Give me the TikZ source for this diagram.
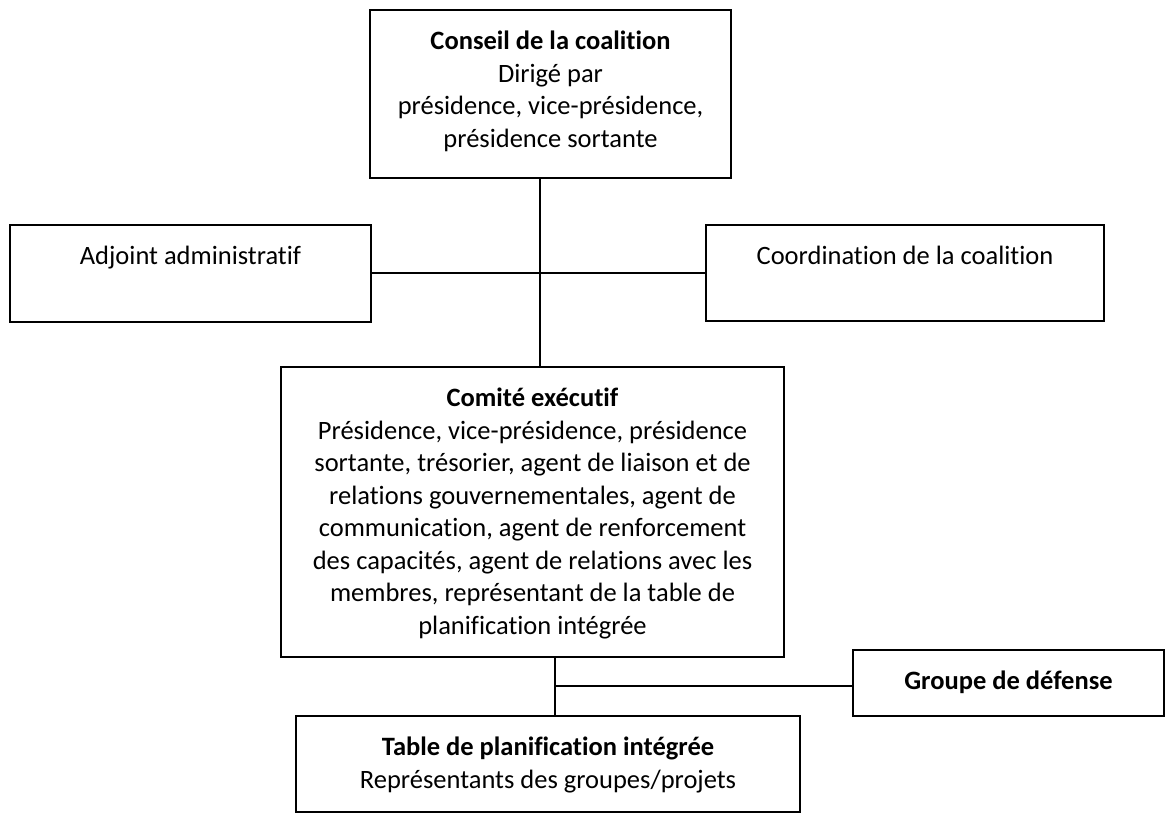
\documentclass[tikz,border=0pt]{standalone}
\usepackage{fontspec}
\setmainfont{Carlito}[Ligatures={NoCommon,NoRare,NoContextual}, Contextuals=NoAlternate]
\usetikzlibrary{positioning}

\begin{document}
\begin{tikzpicture}[x=1pt, y=-1pt,
    box/.style={draw, rectangle, line width=1.6pt, inner sep=0pt, outer sep=0pt},
    boxtext/.style={inner sep=0pt, align=center, font=\fontsize{26.5}{32.5}\selectfont},
    link/.style={line width=1.3pt}]
  \useasboundingbox (0,0) rectangle (1167,814);

  \node[box, minimum width=361pt, minimum height=168pt] (conseil) at (550.5,94) {};
  \node[boxtext, below=17pt of conseil.north] (conseiltxt) {\strut\textbf{Conseil de la coalition}\\Dirigé par\\présidence, vice-présidence,\\présidence sortante};

  \node[box, minimum width=361pt, minimum height=97pt] (adjoint) at (190.5,273.5) {};
  \node[boxtext, below=17pt of adjoint.north] (adjointtxt) {\strut Adjoint administratif};

  \node[box, minimum width=398pt, minimum height=96pt] (coord) at (905,273) {};
  \node[boxtext, below=17pt of coord.north] (coordtxt) {\strut Coordination de la coalition};

  \node[box, minimum width=503pt, minimum height=290pt] (comite) at (532.5,512) {};
  \node[boxtext, below=17pt of comite.north] (comitetxt) {\strut\textbf{Comité exécutif}\\Présidence, vice-présidence, présidence\\sortante, trésorier, agent de liaison et de\\relations gouvernementales, agent de\\communication, agent de renforcement\\des capacités, agent de relations avec les\\membres, représentant de la table de\\planification intégrée};

  \node[box, minimum width=311pt, minimum height=66pt] (groupe) at (1008.5,683) {};
  \node[boxtext, below=17pt of groupe.north] (groupetxt) {\strut\textbf{Groupe de défense}};

  \node[box, minimum width=504pt, minimum height=96pt] (table) at (548,764) {};
  \node[boxtext, below=17pt of table.north] (tabletxt) {\strut\textbf{Table de planification intégrée}\\Représentants des groupes/projets};

  \coordinate (upper) at (540,273);
  \coordinate (lower) at (555,686);

  \draw[link] (upper |- conseil.south) -- (upper |- comite.north);
  \draw[link] (adjoint.east |- upper) -- (coord.west |- upper);
  \draw[link] (lower |- comite.south) -- (lower |- table.north);
  \draw[link] (lower) -- (lower -| groupe.west);
\end{tikzpicture}
\end{document}
